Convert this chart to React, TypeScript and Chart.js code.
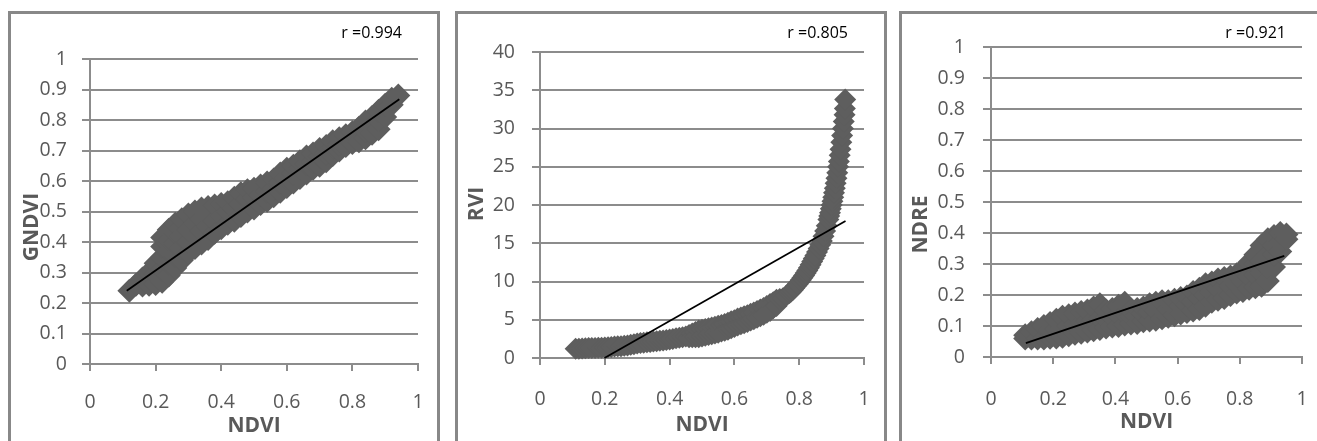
import React, { useEffect, useRef } from 'react';
import { Chart, registerables } from 'chart.js';

Chart.register(...registerables);

// ---------- data ----------
const xTitle = 'NDVI';
const yTitles = ['GNDVI', 'RVI', 'NDRE'];
const rLabels = ['r =0.994', 'r =0.805', 'r =0.921'];
const yMaxes = [1, 40, 1];
const ySteps = [0.1, 5, 0.1];
const xMax = 1;
const xStep = 0.2;

// NDVI vs GNDVI  [NDVI, GNDVI]
const gndviPoints: [number, number][] = [
  [0.12, 0.24],
  [0.14, 0.26],
  [0.16, 0.257], [0.16, 0.28],
  [0.18, 0.26], [0.18, 0.3],
  [0.2, 0.262], [0.2, 0.295], [0.2, 0.33],
  [0.22, 0.27], [0.22, 0.31], [0.22, 0.35], [0.22, 0.385], [0.22, 0.415],
  [0.24, 0.29], [0.24, 0.33], [0.24, 0.37], [0.24, 0.405], [0.24, 0.44],
  [0.26, 0.315], [0.26, 0.355], [0.26, 0.395], [0.26, 0.43], [0.26, 0.46],
  [0.28, 0.34], [0.28, 0.38], [0.28, 0.42], [0.28, 0.45], [0.28, 0.475],
  [0.3, 0.365], [0.3, 0.4], [0.3, 0.44], [0.3, 0.49],
  [0.32, 0.38], [0.32, 0.42], [0.32, 0.46], [0.32, 0.5],
  [0.34, 0.395], [0.34, 0.435], [0.34, 0.475], [0.34, 0.51],
  [0.36, 0.41], [0.36, 0.45], [0.36, 0.485], [0.36, 0.515],
  [0.38, 0.43], [0.38, 0.47], [0.38, 0.52],
  [0.4, 0.445], [0.4, 0.485], [0.4, 0.525],
  [0.42, 0.46], [0.42, 0.5], [0.42, 0.53],
  [0.44, 0.47], [0.44, 0.51], [0.44, 0.545],
  [0.46, 0.485], [0.46, 0.525], [0.46, 0.56],
  [0.48, 0.5], [0.48, 0.54], [0.48, 0.57],
  [0.5, 0.51], [0.5, 0.545], [0.5, 0.575],
  [0.52, 0.525], [0.52, 0.555], [0.52, 0.585],
  [0.54, 0.535], [0.54, 0.565], [0.54, 0.595],
  [0.56, 0.55], [0.56, 0.575], [0.56, 0.605],
  [0.58, 0.565], [0.58, 0.595], [0.58, 0.625],
  [0.6, 0.58], [0.6, 0.61], [0.6, 0.64],
  [0.62, 0.595], [0.62, 0.625], [0.62, 0.65],
  [0.64, 0.61], [0.64, 0.64], [0.64, 0.665],
  [0.66, 0.625], [0.66, 0.655], [0.66, 0.68],
  [0.68, 0.64], [0.68, 0.665], [0.68, 0.69],
  [0.7, 0.65], [0.7, 0.68], [0.7, 0.705],
  [0.72, 0.665], [0.72, 0.69], [0.72, 0.715],
  [0.74, 0.685], [0.74, 0.71], [0.74, 0.73],
  [0.76, 0.7], [0.76, 0.72], [0.76, 0.74],
  [0.78, 0.715], [0.78, 0.75],
  [0.8, 0.725], [0.8, 0.76],
  [0.82, 0.73], [0.82, 0.775],
  [0.84, 0.74], [0.84, 0.765], [0.84, 0.795],
  [0.86, 0.755], [0.86, 0.78], [0.86, 0.81],
  [0.88, 0.77], [0.88, 0.8], [0.88, 0.83],
  [0.9, 0.81], [0.9, 0.85],
  [0.92, 0.85], [0.92, 0.87],
  [0.94, 0.88],
];
const gndviTrend: [number, number][] = [[0.112, 0.24], [0.943, 0.868]];

// NDVI vs RVI  [NDVI, RVI]
const rviPoints: [number, number][] = [
  [0.11, 1.2], [0.12, 1.22], [0.13, 1.25], [0.14, 1.28], [0.15, 1.3],
  [0.16, 1.3], [0.17, 1.3], [0.18, 1.33], [0.19, 1.35], [0.2, 1.38],
  [0.21, 1.4], [0.22, 1.45], [0.23, 1.5], [0.24, 1.52], [0.25, 1.55],
  [0.26, 1.6], [0.27, 1.65], [0.28, 1.72], [0.29, 1.8], [0.3, 1.88],
  [0.31, 1.95], [0.32, 2.0], [0.33, 2.05], [0.34, 2.1], [0.35, 2.15],
  [0.36, 2.2], [0.37, 2.25], [0.38, 2.3], [0.39, 2.35], [0.4, 2.42],
  [0.41, 2.5], [0.42, 2.58], [0.43, 2.65], [0.44, 2.72], [0.45, 2.8],
  [0.46, 3.0], [0.46, 2.7], [0.47, 3.2], [0.47, 2.72], [0.48, 3.4], [0.48, 2.72],
  [0.49, 3.6], [0.49, 2.7], [0.5, 3.7], [0.5, 2.8],
  [0.51, 3.8], [0.51, 2.9], [0.52, 3.9], [0.52, 3.0],
  [0.53, 4.0], [0.53, 3.1], [0.54, 4.1], [0.54, 3.2],
  [0.55, 4.2], [0.55, 3.3], [0.56, 4.3], [0.56, 3.45],
  [0.57, 4.45], [0.57, 3.55], [0.58, 4.6], [0.58, 3.7],
  [0.59, 4.8], [0.59, 3.9], [0.6, 4.95], [0.6, 4.05],
  [0.61, 5.15], [0.61, 4.25], [0.62, 5.3], [0.62, 4.4],
  [0.63, 5.45], [0.63, 4.55], [0.64, 5.6], [0.64, 4.7],
  [0.65, 5.8], [0.65, 4.9], [0.66, 5.95], [0.66, 5.05],
  [0.67, 6.15], [0.67, 5.25], [0.68, 6.35], [0.68, 5.45],
  [0.69, 6.55], [0.69, 5.65], [0.7, 6.8], [0.7, 5.9],
  [0.71, 7.05], [0.71, 6.15], [0.72, 7.3], [0.72, 6.5],
  [0.73, 7.6], [0.73, 6.8], [0.74, 7.7], [0.75, 7.8],
  [0.76, 8.15], [0.77, 8.5], [0.775, 8.7], [0.78, 8.9], [0.785, 9.15],
  [0.79, 9.4], [0.795, 9.65], [0.8, 9.9], [0.805, 10.2], [0.81, 10.5],
  [0.815, 10.8], [0.82, 11.1], [0.825, 11.45], [0.83, 11.8], [0.835, 12.2],
  [0.84, 12.6], [0.845, 13.0], [0.85, 13.4], [0.855, 13.85], [0.86, 14.3],
  [0.865, 14.8], [0.87, 15.3], [0.875, 15.9], [0.88, 16.6], [0.885, 17.3],
  [0.89, 18.1], [0.8925, 18.55], [0.895, 19.0], [0.8975, 19.5], [0.9, 20.0],
  [0.9025, 20.5], [0.905, 21.0], [0.9075, 21.6], [0.91, 22.2], [0.9125, 22.85],
  [0.915, 23.5], [0.9175, 24.2], [0.92, 25.0], [0.9225, 25.7], [0.925, 26.5],
  [0.9275, 27.3], [0.93, 28.2], [0.9325, 29.1], [0.935, 30.0], [0.9375, 30.9],
  [0.94, 31.8], [0.941, 32.6], [0.942, 33.8],
];
const rviTrend: [number, number][] = [[0.199, 0], [0.943, 17.9]];

// NDVI vs NDRE  [NDVI, NDRE]
const ndrePoints: [number, number][] = [
  [0.11, 0.06], [0.11, 0.07],
  [0.13, 0.06], [0.13, 0.08],
  [0.15, 0.06], [0.15, 0.09],
  [0.17, 0.06], [0.17, 0.1],
  [0.19, 0.062], [0.19, 0.085], [0.19, 0.11],
  [0.21, 0.063], [0.21, 0.09], [0.21, 0.12],
  [0.23, 0.065], [0.23, 0.095], [0.23, 0.13],
  [0.25, 0.07], [0.25, 0.1], [0.25, 0.135],
  [0.27, 0.075], [0.27, 0.105], [0.27, 0.14],
  [0.29, 0.078], [0.29, 0.11], [0.29, 0.145],
  [0.31, 0.082], [0.31, 0.115], [0.31, 0.15],
  [0.33, 0.086], [0.33, 0.12], [0.33, 0.16],
  [0.35, 0.09], [0.35, 0.125], [0.35, 0.17],
  [0.37, 0.095], [0.37, 0.125], [0.37, 0.15],
  [0.39, 0.098], [0.39, 0.13], [0.39, 0.155],
  [0.41, 0.1], [0.41, 0.135], [0.41, 0.165],
  [0.43, 0.105], [0.43, 0.14], [0.43, 0.175],
  [0.45, 0.108], [0.45, 0.13], [0.45, 0.15],
  [0.47, 0.11], [0.47, 0.135], [0.47, 0.155],
  [0.49, 0.115], [0.49, 0.14], [0.49, 0.16],
  [0.51, 0.118], [0.51, 0.145], [0.51, 0.17],
  [0.53, 0.12], [0.53, 0.15], [0.53, 0.175],
  [0.55, 0.125], [0.55, 0.155], [0.55, 0.18],
  [0.57, 0.13], [0.57, 0.155], [0.57, 0.18],
  [0.59, 0.135], [0.59, 0.16], [0.59, 0.185],
  [0.61, 0.14], [0.61, 0.165], [0.61, 0.19],
  [0.63, 0.145], [0.63, 0.17], [0.63, 0.195],
  [0.65, 0.15], [0.65, 0.18], [0.65, 0.21],
  [0.67, 0.155], [0.67, 0.19], [0.67, 0.22],
  [0.69, 0.165], [0.69, 0.2], [0.69, 0.235],
  [0.71, 0.178], [0.71, 0.21], [0.71, 0.24],
  [0.73, 0.185], [0.73, 0.22], [0.73, 0.25],
  [0.75, 0.19], [0.75, 0.225], [0.75, 0.255],
  [0.77, 0.2], [0.77, 0.23], [0.77, 0.26],
  [0.79, 0.208], [0.79, 0.235], [0.79, 0.267],
  [0.81, 0.213], [0.81, 0.245], [0.81, 0.28],
  [0.83, 0.22], [0.83, 0.26], [0.83, 0.305],
  [0.85, 0.225], [0.85, 0.265], [0.85, 0.3], [0.85, 0.33],
  [0.87, 0.23], [0.87, 0.27], [0.87, 0.31], [0.87, 0.36],
  [0.89, 0.245], [0.89, 0.29], [0.89, 0.33], [0.89, 0.38],
  [0.91, 0.29], [0.91, 0.33], [0.91, 0.36], [0.91, 0.39],
  [0.93, 0.34], [0.93, 0.37], [0.93, 0.4],
  [0.95, 0.38], [0.95, 0.395],
];
const ndreTrend: [number, number][] = [[0.112, 0.045], [0.943, 0.326]];

const seriesPoints = [gndviPoints, rviPoints, ndrePoints];
const seriesTrends = [gndviTrend, rviTrend, ndreTrend];

// ---------- layout / style ----------
const FONT = '"Open Sans", "Noto Sans", sans-serif';
const GRID = '#8c8c8c';
const LABEL = '#595959';
const MARK = '#5e5e5e';

type Panel = {
  boxLeft: number; boxWidth: number;
  cw: number; ch: number;
  area: { left: number; right: number; top: number; bottom: number };
  xPad: number; yPad: number; xTitlePad: number;
  yTitlePos: [number, number]; rPos: [number, number]; markR: number;
};

const panels: Panel[] = [
  { boxLeft: 8, boxWidth: 432, cw: 432, ch: 430,
    area: { left: 82, right: 410, top: 48, bottom: 353 },
    xPad: 20, yPad: 15, xTitlePad: 2.5, yTitlePos: [24, 216], rPos: [394, 22], markR: 12 },
  { boxLeft: 455, boxWidth: 432, cw: 432, ch: 430,
    area: { left: 85, right: 409, top: 41, bottom: 347 },
    xPad: 23, yPad: 17, xTitlePad: 3.5, yTitlePos: [22, 193], rPos: [393, 22], markR: 11 },
  { boxLeft: 899, boxWidth: 500, cw: 418, ch: 430,
    area: { left: 92, right: 403, top: 36, bottom: 346 },
    xPad: 24, yPad: 18, xTitlePad: 6.5, yTitlePos: [22, 213.5], rPos: [387, 22], markR: 12 },
];
const CANVAS_TOP = 11;

const fmt = (v: any) => String(parseFloat(Number(v).toFixed(3)));

function makeChart(canvas: HTMLCanvasElement, i: number) {
  const p = panels[i];
  const annot = {
    id: 'annot' + i,
    afterDraw(chart: any) {
      const ctx = chart.ctx as CanvasRenderingContext2D;
      ctx.save();
      ctx.font = `16px ${FONT}`;
      ctx.fillStyle = '#000';
      ctx.textAlign = 'right';
      ctx.textBaseline = 'middle';
      ctx.fillText(rLabels[i], p.rPos[0], p.rPos[1]);
      ctx.translate(p.yTitlePos[0], p.yTitlePos[1]);
      ctx.rotate(-Math.PI / 2);
      ctx.font = `bold 21px ${FONT}`;
      ctx.fillStyle = LABEL;
      ctx.textAlign = 'center';
      ctx.fillText(yTitles[i], 0, 0);
      ctx.restore();
    },
  };
  return new Chart(canvas, {
    type: 'scatter',
    data: {
      datasets: [
        {
          type: 'line',
          data: seriesTrends[i].map(([x, y]) => ({ x, y })),
          borderColor: '#000',
          borderWidth: 1.75,
          pointRadius: 0,
          fill: false,
          showLine: true,
          order: 0,
          clip: false,
        } as any,
        {
          data: seriesPoints[i].map(([x, y]) => ({ x, y })),
          pointStyle: 'rectRot',
          pointRadius: p.markR,
          backgroundColor: MARK,
          borderColor: MARK,
          borderWidth: 0,
          order: 1,
          clip: false,
        } as any,
      ],
    },
    options: {
      animation: false,
      responsive: false,
      devicePixelRatio: 1,
      events: [],
      layout: { padding: { left: 0, top: p.area.top, right: p.cw - p.area.right, bottom: 0 } },
      plugins: { legend: { display: false }, tooltip: { enabled: false } },
      scales: {
        x: {
          type: 'linear',
          min: 0,
          max: xMax,
          ticks: { stepSize: xStep, color: LABEL, font: { family: FONT, size: 19.5 }, padding: p.xPad, maxRotation: 0, callback: fmt },
          grid: { drawOnChartArea: false, drawTicks: true, tickLength: 7, color: GRID, lineWidth: 2 },
          border: { display: true, color: GRID, width: 2 },
          title: {
            display: true, text: xTitle, color: LABEL,
            font: { family: FONT, size: 21, weight: 'bold' },
            padding: { top: 0, bottom: p.xTitlePad },
          },
          afterFit: (s: any) => {
            s.height = p.ch - p.area.bottom;
            s.paddingLeft = 0; s.paddingRight = 0;
          },
        },
        y: {
          type: 'linear',
          min: 0,
          max: yMaxes[i],
          ticks: { stepSize: ySteps[i], color: LABEL, font: { family: FONT, size: 19.5 }, padding: p.yPad, callback: fmt },
          grid: { drawOnChartArea: true, drawTicks: true, tickLength: 8, color: GRID, lineWidth: 2 },
          border: { display: true, color: GRID, width: 2 },
          afterFit: (s: any) => {
            s.width = p.area.left;
            s.paddingTop = 0; s.paddingBottom = 0;
          },
        },
      },
    } as any,
    plugins: [annot],
  });
}

function PanelChart({ i }: { i: number }) {
  const ref = useRef<HTMLCanvasElement>(null);
  useEffect(() => {
    if (!ref.current) return;
    const c = makeChart(ref.current, i);
    return () => c.destroy();
  }, [i]);
  const p = panels[i];
  return (
    <>
      <canvas
        ref={ref}
        width={p.cw}
        height={p.ch}
        style={{ position: 'absolute', left: p.boxLeft, top: CANVAS_TOP, width: p.cw, height: p.ch }}
      />
      <div
        style={{
          position: 'absolute', left: p.boxLeft, top: CANVAS_TOP, width: p.boxWidth, height: 500,
          border: '3px solid #888888', boxSizing: 'border-box', pointerEvents: 'none',
        }}
      />
    </>
  );
}

export default function App() {
  return (
    <div
      style={{
        position: 'absolute', left: 0, top: 0, width: 1317, height: 441,
        overflow: 'hidden', background: '#fff',
      }}
    >
      {panels.map((_, i) => <PanelChart key={i} i={i} />)}
    </div>
  );
}
